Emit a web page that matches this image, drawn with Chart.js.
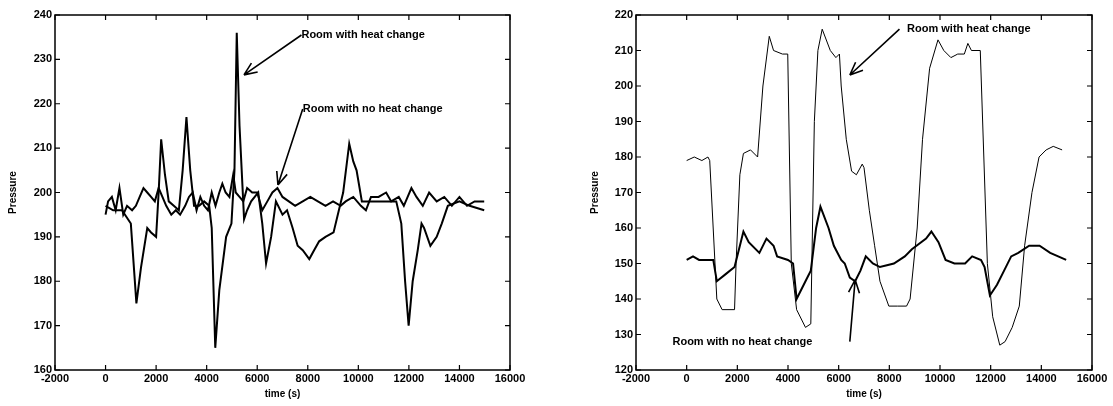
<!DOCTYPE html>
<html>
<head>
<meta charset="utf-8">
<script src="https://cdn.jsdelivr.net/npm/chart.js@4.4.1/dist/chart.umd.min.js"></script>
<style>
  body { margin: 0; background: #fff; }
  #wrap { position: relative; width: 1113px; height: 406px; }
  .box { position: absolute; top: 0; height: 406px; }
</style>
</head>
<body>
<div id="wrap">
  <div class="box" style="left:0;width:556px"><canvas id="leftChart"></canvas></div>
  <div class="box" style="left:556px;width:557px"><canvas id="rightChart"></canvas></div>
</div>
<script>
// Left panel data
const leftHeatT = [0,300,650,1000,1220,1400,1650,1800,2000,2100,2200,2350,2500,2700,2900,3050,3200,3350,3500,3700,3900,4100,4200,4340,4500,4770,4980,5100,5190,5300,5480,5600,5760,6040,6200,6350,6550,6740,7000,7180,7400,7600,7800,8060,8250,8450,8700,9020,9230,9400,9640,9800,9930,10140,10500,10900,11300,11500,11700,11850,11990,12150,12350,12500,12600,12850,13100,13300,13540,14000,14400,14980];
const leftHeatP = [197,196,196,193,175,183,192,191,190,200,212,204,198,197,196,205,217,205,197,197,198,197,192,165,178,190,193,205,236,215,194,196,198,200,193,184,190,198,195,196,192,188,187,185,187,189,190,191,196,200,211,207,205,198,198,198,198,198,193,180,170,180,187,193,192,188,190,193,197,198,197,196];
const leftNoHeatT = [0,100,250,400,550,700,850,1050,1200,1350,1500,1650,1800,1950,2100,2250,2400,2600,2780,2950,3150,3300,3450,3600,3750,3900,4050,4200,4350,4500,4620,4750,4900,5050,5150,5300,5450,5600,5800,6000,6200,6400,6600,6800,7000,7250,7500,7800,8100,8400,8700,9000,9300,9500,9800,10100,10300,10500,10800,11100,11300,11600,11800,12100,12300,12550,12800,13100,13400,13700,14000,14300,14600,14800,14980];
const leftNoHeatP = [195,198,199,196,201,195,197,196,197,199,201,200,199,198,201,199,197,195,196,195,197,199,200,196,199,197,196,200,197,200,202,200,199,204,200,199,198,201,200,200,196,198,200,201,199,198,197,198,199,198,197,198,197,198,199,197,196,199,199,200,198,199,197,201,199,197,200,198,199,197,199,197,198,198,198];

// Right panel data
const rightHeatT = [0,300,600,840,910,1190,1400,1890,1950,2100,2240,2520,2800,3010,3260,3430,3780,3990,4130,4340,4690,4900,5040,5180,5350,5670,5890,6030,6100,6300,6510,6700,6930,7000,7210,7420,7630,7980,8330,8680,8820,9100,9310,9590,9920,10150,10430,10700,10960,11100,11240,11590,11730,11870,12080,12360,12570,12850,13130,13340,13630,13910,14190,14470,14820];
const rightHeatP = [179,180,179,180,179,140,137,137,150,175,181,182,180,200,214,210,209,209,150,137,132,133,190,210,216,210,208,209,200,185,176,175,178,177,165,155,145,138,138,138,140,160,185,205,213,210,208,209,209,212,210,210,180,150,135,127,128,132,138,155,170,180,182,183,182];
const rightNoHeatT = [0,250,490,1050,1190,1540,1890,2100,2240,2450,2870,3150,3430,3570,4000,4200,4340,4690,4900,5110,5280,5600,5810,6100,6240,6440,6650,6860,7070,7350,7630,8180,8610,8890,9450,9660,9940,10220,10570,10990,11270,11620,11760,11970,12250,12530,12810,13090,13520,13930,14350,14980];
const rightNoHeatP = [151,152,151,151,145,147,149,155,159,156,153,157,155,152,151,150,140,145,148,160,166,160,155,151,150,146,145,148,152,150,149,150,152,154,157,159,156,151,150,150,152,151,149,141,144,148,152,153,155,155,153,151];

// Axis ticks
const xTicks = [-2000,0,2000,4000,6000,8000,10000,12000,14000,16000];
const leftYTicks = [160,170,180,190,200,210,220,230,240];
const rightYTicks = [120,130,140,150,160,170,180,190,200,210,220];

// Annotation labels: text position and arrow head, in data units
const leftNotes = [
  { text: "Room with heat change", tx: 7750, ty: 235.5, hx: 5475, hy: 226.5 },
  { text: "Room with no heat change", tx: 7800, ty: 218.8, hx: 6820, hy: 201.7 }
];
const rightNotes = [
  { text: "Room with heat change", tx: 8700, ty: 216.2, fx: 8400, fy: 216, hx: 6440, hy: 203.1 },
  { text: "Room with no heat change", tx: -560, ty: 128, fx: 6440, fy: 128, hx: 6650, hy: 145.4 }
];

const FONT = "'Liberation Sans', Arial, sans-serif";

function toXY(ts, ps) {
  return ts.map((t, i) => ({ x: t, y: ps[i] }));
}

function drawArrow(ctx, x1, y1, x2, y2) {
  ctx.beginPath();
  ctx.moveTo(x1, y1);
  ctx.lineTo(x2, y2);
  const ang = Math.atan2(y2 - y1, x2 - x1);
  const len = 14;
  ctx.moveTo(x2, y2);
  ctx.lineTo(x2 - len * Math.cos(ang - 0.4), y2 - len * Math.sin(ang - 0.4));
  ctx.moveTo(x2, y2);
  ctx.lineTo(x2 - len * Math.cos(ang + 0.4), y2 - len * Math.sin(ang + 0.4));
  ctx.stroke();
}

// Frame, inward ticks and annotations
const framePlugin = {
  id: "framePlugin",
  afterDraw(chart, args, opts) {
    const { ctx, chartArea: a, scales } = chart;
    const x = scales.x, y = scales.y;
    ctx.save();
    ctx.strokeStyle = "#000";
    ctx.lineWidth = 1.5;
    ctx.strokeRect(a.left, a.top, a.right - a.left, a.bottom - a.top);
    ctx.lineWidth = 1.2;
    ctx.beginPath();
    x.ticks.forEach((t) => {
      const px = x.getPixelForValue(t.value);
      ctx.moveTo(px, a.bottom); ctx.lineTo(px, a.bottom - 5);
      ctx.moveTo(px, a.top); ctx.lineTo(px, a.top + 5);
    });
    y.ticks.forEach((t) => {
      const py = y.getPixelForValue(t.value);
      ctx.moveTo(a.left, py); ctx.lineTo(a.left + 5, py);
      ctx.moveTo(a.right, py); ctx.lineTo(a.right - 5, py);
    });
    ctx.stroke();

    ctx.font = "bold 11px " + FONT;
    ctx.fillStyle = "#000";
    ctx.textBaseline = "middle";
    ctx.lineWidth = 1.6;
    (opts.notes || []).forEach((n) => {
      const tx = x.getPixelForValue(n.tx), ty = y.getPixelForValue(n.ty);
      ctx.fillText(n.text, tx, ty);
      const fx = n.fx !== undefined ? x.getPixelForValue(n.fx) : tx;
      const fy = n.fy !== undefined ? y.getPixelForValue(n.fy) : ty;
      drawArrow(ctx, fx, fy, x.getPixelForValue(n.hx), y.getPixelForValue(n.hy));
    });
    ctx.restore();
  }
};

function makeChart(id, heat, noHeat, yMin, yMax, yTicks, padLeft, yWidth, padRight, notes, widths) {
  const ctx = document.getElementById(id).getContext("2d");
  return new Chart(ctx, {
    type: "line",
    data: {
      datasets: [
        { data: heat, borderColor: "#000", borderWidth: widths[0], pointRadius: 0, tension: 0 },
        { data: noHeat, borderColor: "#000", borderWidth: widths[1], pointRadius: 0, tension: 0 }
      ]
    },
    options: {
      responsive: true,
      maintainAspectRatio: false,
      animation: false,
      layout: { padding: { top: 15, right: padRight, left: padLeft, bottom: 6 } },
      plugins: {
        legend: { display: false },
        tooltip: { enabled: false },
        framePlugin: { notes: notes }
      },
      scales: {
        x: {
          type: "linear",
          min: -2000,
          max: 16000,
          afterBuildTicks: (s) => { s.ticks = xTicks.map((v) => ({ value: v })); },
          afterFit: (s) => { s.height = 30; },
          grid: { display: false, drawTicks: false },
          border: { display: false },
          ticks: {
            color: "#000",
            padding: 2,
            maxRotation: 0,
            autoSkip: false,
            font: { family: FONT, size: 11, weight: "bold" },
            callback: (v) => String(v)
          },
          title: {
            display: true,
            text: "time (s)",
            color: "#000",
            padding: 0,
            font: { family: FONT, size: 10, weight: "bold" }
          }
        },
        y: {
          min: yMin,
          max: yMax,
          afterBuildTicks: (s) => { s.ticks = yTicks.map((v) => ({ value: v })); },
          afterFit: (s) => { s.width = yWidth; },
          grid: { display: false, drawTicks: false },
          border: { display: false },
          ticks: {
            color: "#000",
            padding: 3,
            autoSkip: false,
            font: { family: FONT, size: 11, weight: "bold" },
            callback: (v) => String(v)
          },
          title: {
            display: true,
            text: "Pressure",
            color: "#000",
            padding: 0,
            font: { family: FONT, size: 10, weight: "bold" }
          }
        }
      }
    },
    plugins: [framePlugin]
  });
}

makeChart("leftChart", toXY(leftHeatT, leftHeatP), toXY(leftNoHeatT, leftNoHeatP),
  160, 240, leftYTicks, 7, 48, 46, leftNotes, [2, 2]);
makeChart("rightChart", toXY(rightHeatT, rightHeatP), toXY(rightNoHeatT, rightNoHeatP),
  120, 220, rightYTicks, 33, 47, 21, rightNotes, [1, 2]);
</script>
</body>
</html>
